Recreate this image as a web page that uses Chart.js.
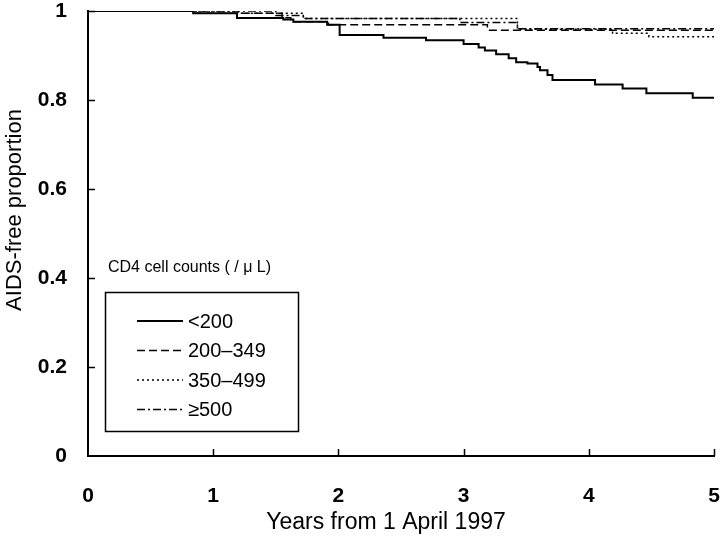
<!DOCTYPE html>
<html>
<head>
<meta charset="utf-8">
<script src="https://cdn.jsdelivr.net/npm/chart.js@4.4.0/dist/chart.umd.min.js"></script>
<style>
  html, body { margin: 0; padding: 0; background: #fff; }
  #wrap { width: 722px; height: 550px; }
</style>
</head>
<body>
<div id="wrap"><canvas id="kmChart" width="722" height="550"></canvas></div>
<script>
// Kaplan-Meier style curves
const seriesLabels = ['<200', '200–349', '350–499', '≥500'];

const timesLt200 = [0, 0.84, 1.19, 1.56, 1.64, 1.91, 2.01, 2.36, 2.70, 3.00, 3.12, 3.17, 3.26, 3.36, 3.42, 3.51, 3.59, 3.61, 3.67, 3.71, 4.05, 4.27, 4.46, 4.83, 5.0];
const survLt200  = [1.0, 0.995, 0.984, 0.981, 0.976, 0.969, 0.946, 0.940, 0.934, 0.926, 0.918, 0.911, 0.903, 0.894, 0.885, 0.882, 0.874, 0.867, 0.856, 0.845, 0.835, 0.826, 0.815, 0.805, 0.805];

const times200 = [0, 0.85, 1.55, 1.62, 1.92, 3.19, 5.0];
const surv200  = [1.0, 0.995, 0.985, 0.976, 0.969, 0.957, 0.957];

const times350 = [0, 1.2, 1.72, 3.43, 4.19, 4.48, 5.0];
const surv350  = [1.0, 0.995, 0.983, 0.959, 0.950, 0.942, 0.942];

const times500 = [0, 1.5, 1.72, 2.97, 3.43, 5.0];
const surv500  = [1.0, 0.99, 0.983, 0.974, 0.960, 0.960];

const xTicks = [0, 1, 2, 3, 4, 5];
const yTicks = [0, 0.2, 0.4, 0.6, 0.8, 1];

const xTitle = 'Years from 1 April 1997';
const yTitle = 'AIDS-free proportion';
const legendTitle = 'CD4 cell counts ( / μ L)';

const toPoints = (ts, ss) => ts.map((t, i) => ({ x: t, y: ss[i] }));

const fontFamily = '"Liberation Sans", Arial, sans-serif';

// tick marks pointing into the plot, like the original
const innerTicks = {
    id: 'innerTicks',
    afterDraw(chart) {
        const { ctx, scales: { x, y } } = chart;
        ctx.save();
        ctx.strokeStyle = '#000';
        ctx.lineWidth = 1.5;
        xTicks.forEach(v => {
            if (v === 0) return;
            const px = Math.round(x.getPixelForValue(v)) + 0.5;
            ctx.beginPath();
            ctx.moveTo(px, y.bottom);
            ctx.lineTo(px, y.bottom - 7);
            ctx.stroke();
        });
        yTicks.forEach(v => {
            if (v === 0) return;
            const py = Math.round(y.getPixelForValue(v)) + 0.5;
            ctx.beginPath();
            ctx.moveTo(x.left, py);
            ctx.lineTo(x.left + 7, py);
            ctx.stroke();
        });
        ctx.restore();
    }
};

// axis titles (placed off-centre as in the original) and the boxed legend
const annotations = {
    id: 'annotations',
    afterDraw(chart) {
        const ctx = chart.ctx;
        ctx.save();
        ctx.fillStyle = '#000';
        ctx.textBaseline = 'middle';

        ctx.textAlign = 'center';
        ctx.font = '23px ' + fontFamily;
        ctx.fillText(xTitle, 386, 523);

        ctx.save();
        ctx.translate(15, 210);
        ctx.rotate(-Math.PI / 2);
        ctx.font = '22px ' + fontFamily;
        ctx.fillText(yTitle, 0, 0);
        ctx.restore();

        ctx.textAlign = 'left';
        ctx.font = '16px ' + fontFamily;
        ctx.fillText(legendTitle, 108, 268);

        ctx.strokeStyle = '#000';
        ctx.lineWidth = 1.5;
        ctx.strokeRect(105.5, 292.5, 193, 139);

        ctx.font = '20px ' + fontFamily;
        chart.data.datasets.forEach((ds, i) => {
            const cy = 321 + i * 29.5;
            ctx.beginPath();
            ctx.setLineDash(ds.borderDash || []);
            ctx.lineWidth = ds.borderWidth;
            ctx.moveTo(137, cy);
            ctx.lineTo(183, cy);
            ctx.stroke();
            ctx.setLineDash([]);
            ctx.fillText(ds.label, 188, cy + 1);
        });
        ctx.restore();
    }
};

const ctx = document.getElementById('kmChart');

new Chart(ctx, {
    type: 'line',
    data: {
        datasets: [
            { label: seriesLabels[0], data: toPoints(timesLt200, survLt200), borderWidth: 2, borderDash: [] },
            { label: seriesLabels[1], data: toPoints(times200, surv200), borderWidth: 1.5, borderDash: [8, 4] },
            { label: seriesLabels[2], data: toPoints(times350, surv350), borderWidth: 1.5, borderDash: [2, 3] },
            { label: seriesLabels[3], data: toPoints(times500, surv500), borderWidth: 1.5, borderDash: [8, 3, 2, 3] }
        ].map(ds => Object.assign(ds, {
            borderColor: '#000',
            backgroundColor: '#000',
            stepped: 'before',
            pointRadius: 0,
            fill: false
        }))
    },
    options: {
        responsive: false,
        animation: false,
        devicePixelRatio: 1,
        layout: { padding: { top: 11, right: 8, left: 0, bottom: 0 } },
        plugins: {
            legend: { display: false },
            tooltip: { enabled: false }
        },
        scales: {
            x: {
                type: 'linear',
                min: 0,
                max: 5,
                afterBuildTicks: s => { s.ticks = xTicks.map(v => ({ value: v })); },
                afterFit: s => { s.height = 94; s.paddingLeft = 0; s.paddingRight = 0; },
                grid: { display: false, drawTicks: false },
                border: { display: true, color: '#000', width: 2 },
                ticks: {
                    color: '#000',
                    padding: 28,
                    callback: v => String(v),
                    font: { family: fontFamily, size: 21, weight: 'bold' }
                }
            },
            y: {
                min: 0,
                max: 1,
                afterBuildTicks: s => { s.ticks = yTicks.map(v => ({ value: v })); },
                afterFit: s => { s.width = 88; s.paddingTop = 0; s.paddingBottom = 0; },
                grid: { display: false, drawTicks: false },
                border: { display: true, color: '#000', width: 2 },
                ticks: {
                    color: '#000',
                    padding: 21,
                    callback: v => String(v),
                    font: { family: fontFamily, size: 21, weight: 'bold' }
                }
            }
        }
    },
    plugins: [innerTicks, annotations]
});
</script>
</body>
</html>
